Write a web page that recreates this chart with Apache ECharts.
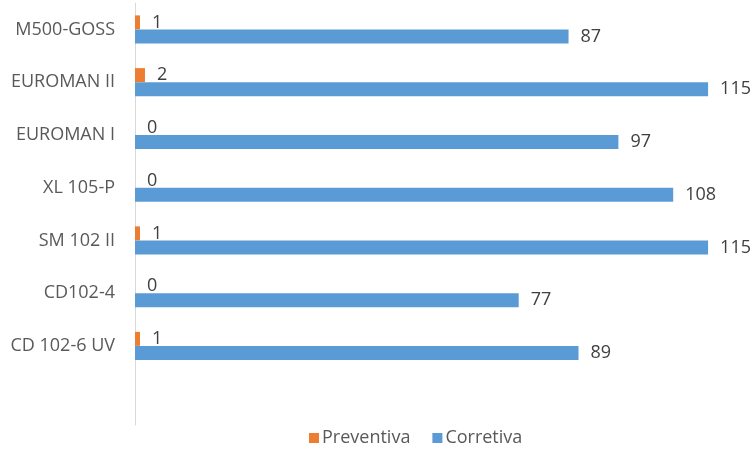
<!DOCTYPE html>
<html>
<head>
<meta charset="utf-8">
<script src="https://cdn.jsdelivr.net/npm/echarts@6/dist/echarts.min.js"></script>
<style>html,body{margin:0;padding:0;background:#fff}#c{width:756px;height:452px}</style>
</head>
<body>
<div id="c"></div>
<script>
var categories = ['M500-GOSS', 'EUROMAN II', 'EUROMAN I', 'XL 105-P', 'SM 102 II', 'CD102-4', 'CD 102-6 UV', ''];
var preventiva = [1, 2, 0, 0, 1, 0, 1];
var corretiva = [87, 115, 97, 108, 115, 77, 89];

var font = 'Open Sans';
var chart = echarts.init(document.getElementById('c'));
chart.setOption({
  animation: false,
  grid: {left: 135, top: 3, bottom: 27, width: 598},
  legend: {
    data: ['Preventiva', 'Corretiva'],
    left: 304, bottom: 0,
    itemWidth: 10, itemHeight: 10, itemGap: 22,
    icon: 'rect',
    textStyle: {fontFamily: font, fontSize: 18, color: '#595959', padding: [0, 0, 0, -2]}
  },
  xAxis: {type: 'value', min: 0, max: 120, show: false},
  yAxis: {
    type: 'category', inverse: true, data: categories,
    axisLine: {lineStyle: {color: '#d9d9d9', width: 1}},
    axisTick: {show: false},
    axisLabel: {fontFamily: font, fontSize: 18, color: '#595959', margin: 20}
  },
  series: [
    {
      name: 'Preventiva', type: 'bar', data: preventiva,
      barWidth: 14, barGap: '0%',
      itemStyle: {color: '#ED7D31'},
      label: {show: true, position: 'right', distance: 12, fontFamily: font, fontSize: 18, color: '#404040'}
    },
    {
      name: 'Corretiva', type: 'bar', data: corretiva,
      barWidth: 14,
      itemStyle: {color: '#5B9BD5'},
      label: {show: true, position: 'right', distance: 12, fontFamily: font, fontSize: 18, color: '#404040'}
    }
  ]
});
</script>
</body>
</html>
